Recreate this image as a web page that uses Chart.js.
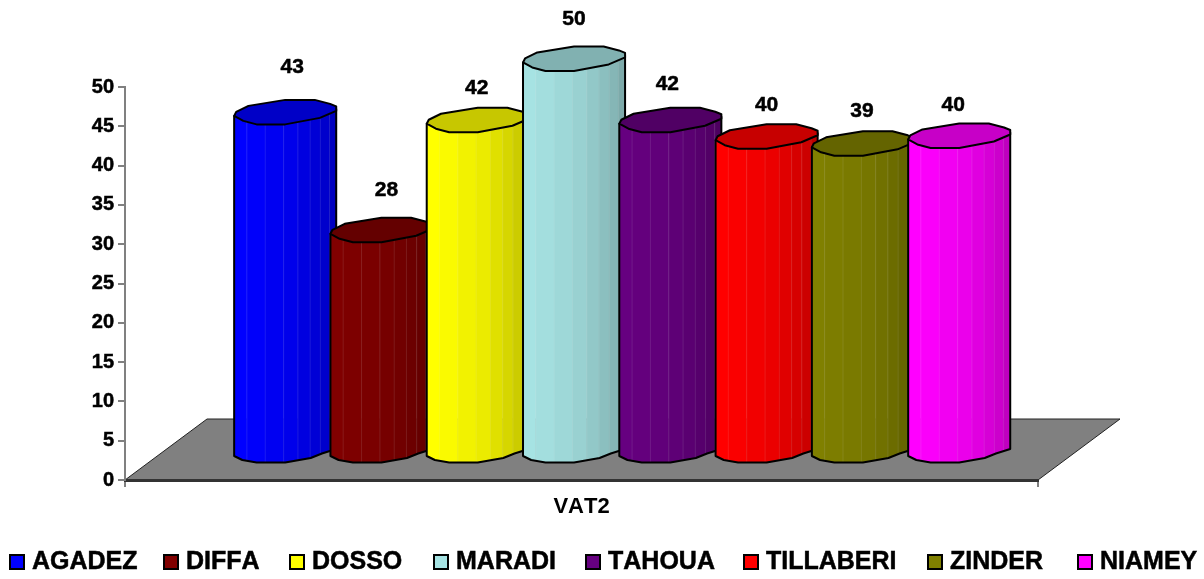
<!DOCTYPE html>
<html>
<head>
<meta charset="utf-8">
<title>VAT2</title>
<script src="https://cdn.jsdelivr.net/npm/chart.js@4"></script>
<style>
    html, body { margin: 0; padding: 0; background: #fff; }
    canvas { display: block; }
</style>
</head>
<body>
<canvas id="grafico" width="1204" height="579"></canvas>
<script>
const categorias = ["VAT2"];
const regioes = ["AGADEZ", "DIFFA", "DOSSO", "MARADI", "TAHOUA", "TILLABERI", "ZINDER", "NIAMEY"];
const valores = [43.4, 28.4, 42.4, 50.2, 42.4, 40.3, 39.4, 40.4];
const cores = ["#0000FF", "#800000", "#FFFF00", "#A6E3E3", "#660080", "#FF0000", "#808000", "#FF00FF"];
const ticksY = [0, 5, 10, 15, 20, 25, 30, 35, 40, 45, 50];

const FONTE = "'Liberation Sans', Arial, sans-serif";

// piso em perspectiva
const PISO_DX = 82;
const PISO_DY = 61;
// deslocamento das colunas para dentro do piso
const COL_DX = 37.8;
const COL_DY = 23;

// contorno da tampa, relativo ao canto esquerdo da coluna, em fracao da largura
const arcoCima = [[0.02, -4], [0.14, -10], [0.5, -16], [0.79, -16], [0.94, -12], [1, -9.5]];
const arcoBaixo = [[1, -5], [0.84, 2], [0.5, 8.5], [0.22, 8.5], [0.09, 5], [0, 0]];
const arcoBase = [[0, 0], [0.08, 4], [0.22, 6.5], [0.5, 6.5], [0.75, 2], [0.86, -2.5], [1, -7]];

// faixas verticais de sombra
const faixas = [0, 0.12, 0.3, 0.48, 0.62, 0.74, 0.84, 0.93, 1];
const brilho = [1, 0.98, 0.95, 0.92, 0.88, 0.84, 0.8, 0.75];

// ajuste dos rotulos em relacao ao centro do topo
const ajusteRotulo = [[7, -6], [5, -1], [-1, 7], [0, 0], [-3, 3], [0, 8], [-1, 7], [-6, 9]];

// legenda: a folga entre os itens nao e regular na original
const legendaX = [9, 163, 289, 433, 585, 743, 927, 1077];
const LEGENDA_Y = 554;

function escurecer(hex, f) {
    const n = parseInt(hex.slice(1), 16);
    const r = Math.round(((n >> 16) & 255) * f);
    const g = Math.round(((n >> 8) & 255) * f);
    const b = Math.round((n & 255) * f);
    return `rgb(${r},${g},${b})`;
}

function caminhoCorpo(ctx, x, w, yTopo, yBase) {
    ctx.beginPath();
    ctx.moveTo(x, yTopo);
    ctx.lineTo(x, yBase);
    arcoBase.forEach(p => ctx.lineTo(x + p[0] * w, yBase + p[1]));
    ctx.lineTo(x + w, yTopo - 7);
    ctx.closePath();
}

function caminhoTampa(ctx, x, w, y) {
    ctx.beginPath();
    ctx.moveTo(x, y);
    arcoCima.forEach(p => ctx.lineTo(x + p[0] * w, y + p[1]));
    arcoBaixo.forEach(p => ctx.lineTo(x + p[0] * w, y + p[1]));
    ctx.closePath();
}

const cilindros = {
    id: "cilindros",
    beforeDraw(chart) {
        const ctx = chart.ctx;
        const a = chart.chartArea;
        ctx.fontKerning = "none"; // o original nao aproxima VA, TA etc.
        ctx.save();
        ctx.beginPath();
        ctx.moveTo(a.left, a.bottom);
        ctx.lineTo(a.right, a.bottom);
        ctx.lineTo(a.right + PISO_DX, a.bottom - PISO_DY);
        ctx.lineTo(a.left + PISO_DX, a.bottom - PISO_DY);
        ctx.closePath();
        ctx.fillStyle = "#808080";
        ctx.fill();
        ctx.strokeStyle = "#222";
        ctx.lineWidth = 1;
        ctx.stroke();
        ctx.restore();
    },
    beforeDatasetDraw() {
        return false; // a coluna e desenhada abaixo
    },
    afterDatasetsDraw(chart) {
        const ctx = chart.ctx;
        ctx.save();
        chart.data.datasets.forEach((ds, i) => {
            const el = chart.getDatasetMeta(i).data[0];
            const w = el.width * 1.06;
            const x = el.x - el.width / 2 + COL_DX;
            const yTopo = el.y - COL_DY;
            const yBase = el.base - COL_DY;

            ctx.save();
            caminhoCorpo(ctx, x, w, yTopo, yBase);
            ctx.clip();
            for (let f = 0; f < brilho.length; f++) {
                const x1 = x + faixas[f] * w;
                const x2 = x + faixas[f + 1] * w;
                ctx.fillStyle = escurecer(ds.backgroundColor, brilho[f]);
                ctx.fillRect(x1, yTopo - 30, x2 - x1 + 0.5, yBase - yTopo + 50);
                ctx.fillStyle = "rgba(255,255,255,0.1)";
                if (f > 0) ctx.fillRect(x1, yTopo - 30, 1, yBase - yTopo + 50);
            }
            ctx.restore();

            ctx.strokeStyle = "#000";
            ctx.lineWidth = 2;
            ctx.lineJoin = "round";
            caminhoCorpo(ctx, x, w, yTopo, yBase);
            ctx.stroke();

            caminhoTampa(ctx, x, w, yTopo);
            ctx.fillStyle = escurecer(ds.backgroundColor, 0.78);
            ctx.fill();
            ctx.stroke();

            ctx.fillStyle = "#000";
            ctx.strokeStyle = "#000";
            ctx.lineWidth = 0.5;
            ctx.font = "bold 21px " + FONTE;
            ctx.textAlign = "center";
            ctx.textBaseline = "middle";
            const aj = ajusteRotulo[i];
            const rotulo = String(Math.round(ds.data[0]));
            ctx.fillText(rotulo, x + w / 2 + aj[0], yTopo - 43 + aj[1]);
            ctx.strokeText(rotulo, x + w / 2 + aj[0], yTopo - 43 + aj[1]);
        });
        ctx.restore();
    },
    afterDraw(chart) {
        const ctx = chart.ctx;
        ctx.save();
        ctx.font = "bold 25px " + FONTE;
        ctx.textAlign = "left";
        ctx.textBaseline = "alphabetic";
        chart.data.datasets.forEach((ds, i) => {
            ctx.fillStyle = ds.backgroundColor;
            ctx.strokeStyle = "#000";
            ctx.lineWidth = 2;
            ctx.fillRect(legendaX[i] + 1, LEGENDA_Y + 1, 14, 14);
            ctx.strokeRect(legendaX[i] + 1, LEGENDA_Y + 1, 14, 14);
            ctx.fillStyle = "#000";
            ctx.lineWidth = 0.5;
            ctx.fillText(ds.label, legendaX[i] + 23, LEGENDA_Y + 15);
            ctx.strokeText(ds.label, legendaX[i] + 23, LEGENDA_Y + 15);
        });
        ctx.restore();
    }
};

new Chart(document.getElementById("grafico"), {
    type: "bar",
    data: {
        labels: categorias,
        datasets: regioes.map((nome, i) => ({
            label: nome,
            data: [valores[i]],
            backgroundColor: cores[i]
        }))
    },
    options: {
        responsive: false,
        animation: false,
        layout: { padding: { top: 87, right: 166, left: 0, bottom: 59 } },
        categoryPercentage: 0.8437,
        barPercentage: 1,
        plugins: {
            title: { display: false },
            tooltip: { enabled: false },
            legend: { display: false }
        },
        scales: {
            x: {
                afterFit(s) { s.height = 40; },
                border: { color: "#333", width: 3 },
                grid: { display: true, drawOnChartArea: false, offset: true, tickLength: 7, color: "#808080", lineWidth: 2 },
                ticks: { color: "#000", padding: 7, font: { family: FONTE, size: 22, weight: "bold" } }
            },
            y: {
                min: 0,
                max: 50,
                afterFit(s) { s.width = 125; },
                afterBuildTicks(s) { s.ticks = ticksY.map(v => ({ value: v })); },
                border: { color: "#808080", width: 2 },
                grid: { display: true, drawOnChartArea: false, tickLength: 7, color: "#808080", lineWidth: 2 },
                ticks: { color: "#000", padding: 4, textStrokeColor: "#000", textStrokeWidth: 0.5, font: { family: FONTE, size: 20, weight: "bold" } }
            }
        }
    },
    plugins: [cilindros]
});
</script>
</body>
</html>
